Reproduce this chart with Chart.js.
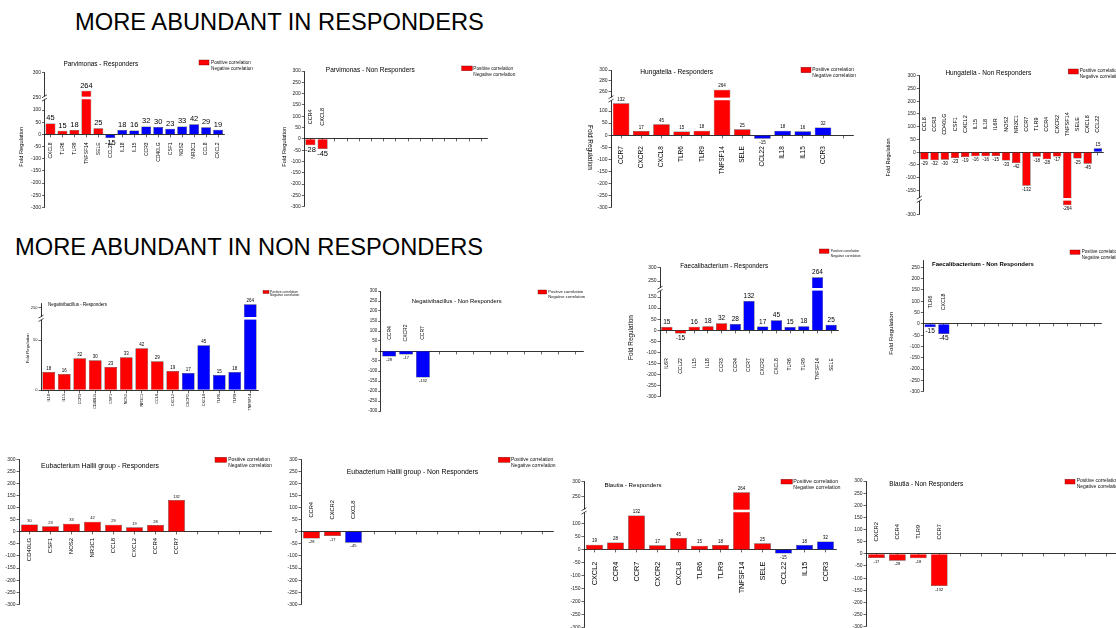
<!DOCTYPE html>
<html>
<head>
<meta charset="utf-8">
<script src="https://cdn.jsdelivr.net/npm/chart.js@4.4.1/dist/chart.umd.min.js"></script>
<style>
  html, body { margin: 0; padding: 0; background: #fff; }
  body { width: 1116px; height: 628px; position: relative; overflow: hidden;
         font-family: "Liberation Sans", Arial, sans-serif; }
  canvas { position: absolute; }
  .head { position: absolute; font-size: 23.7px; line-height: 24px; white-space: nowrap; color: #000; }
</style>
</head>
<body>
<div class="head" style="left:75px;top:10px">MORE ABUNDANT IN RESPONDERS</div>
<div class="head" style="left:15px;top:235px">MORE ABUNDANT IN NON RESPONDERS</div>
<canvas id="overlay" width="1116" height="628" style="left:0;top:0;z-index:2"></canvas>
<script>
// ---- fold regulation per gene; '+' = positive correlation, '-' = negative correlation ----
const parvimonasRGenes = ['CXCL8','TLR6','TLR9','TNFSF14','SELE','CCL22','IL18','IL15','CCR3','CD40LG','CSF1','NOS2','NR3C1','CCL8','CXCL2'];
const parvimonasRFold  = [45, 15, 18, 264, 25, -15, 18, 16, 32, 30, 23, 33, 42, 29, 19];
const parvimonasRCorr  = ['+','+','+','+','+','-','-','-','-','-','-','-','-','-','-'];

const parvimonasNRGenes = ['CCR4','CXCL8'];
const parvimonasNRFold  = [-28, -45];
const parvimonasNRCorr  = ['+','+'];

const hungatellaRGenes = ['CCR7','CXCR2','CXCL8','TLR6','TLR9','TNFSF14','SELE','CCL22','IL18','IL15','CCR3'];
const hungatellaRFold  = [132, 17, 45, 15, 18, 264, 25, -15, 18, 16, 32];
const hungatellaRCorr  = ['+','+','+','+','+','+','+','-','-','-','-'];

const hungatellaNRGenes = ['CCL8','CCR3','CD40LG','CSF1','CXCL2','IL15','IL18','IL6R','NOS2','NR3C1','CCR7','TLR9','CCR4','CXCR2','TNFSF14','SELE','CXCL8','CCL22'];
const hungatellaNRFold  = [-29, -32, -30, -23, -19, -16, -16, -15, -33, -42, -132, -18, -28, -17, -264, -25, -45, 15];
const hungatellaNRCorr  = ['+','+','+','+','+','+','+','+','+','+','+','+','+','+','+','+','+','-'];

const negativibacillusRGenes = ['IL18','IL15','CCR3','CD40LG','CSF1','NOS2','NR3C1','CCL8','CXCL2','CXCR2','CXCL8','TLR6','TLR9','TNFSF14'];
const negativibacillusRFold  = [18, 16, 32, 30, 23, 33, 42, 29, 19, 17, 45, 15, 18, 264];
const negativibacillusRCorr  = ['+','+','+','+','+','+','+','+','+','-','-','-','-','-'];

const negativibacillusNRGenes = ['CCR4','CXCR2','CCR7'];
const negativibacillusNRFold  = [-28, -17, -132];
const negativibacillusNRCorr  = ['-','-','-'];

const faecalibacteriumRGenes = ['IL6R','CCL22','IL15','IL18','CCR3','CCR4','CCR7','CXCR2','CXCL8','TLR6','TLR9','TNFSF14','SELE'];
const faecalibacteriumRFold  = [15, -15, 16, 18, 32, 28, 132, 17, 45, 15, 18, 264, 25];
const faecalibacteriumRCorr  = ['+','+','+','+','+','-','-','-','-','-','-','-','-'];

const faecalibacteriumNRGenes = ['TLR6','CXCL8'];
const faecalibacteriumNRFold  = [-15, -45];
const faecalibacteriumNRCorr  = ['-','-'];

const eubacteriumRGenes = ['CD40LG','CSF1','NOS2','NR3C1','CCL8','CXCL2','CCR4','CCR7'];
const eubacteriumRFold  = [30, 23, 33, 42, 29, 19, 28, 132];
const eubacteriumRCorr  = ['+','+','+','+','+','+','+','+'];

const eubacteriumNRGenes = ['CCR4','CXCR2','CXCL8'];
const eubacteriumNRFold  = [-28, -17, -45];
const eubacteriumNRCorr  = ['+','+','-'];

const blautiaRGenes = ['CXCL2','CCR4','CCR7','CXCR2','CXCL8','TLR6','TLR9','TNFSF14','SELE','CCL22','IL15','CCR3'];
const blautiaRFold  = [19, 28, 132, 17, 45, 15, 18, 264, 25, -15, 18, 32];
const blautiaRCorr  = ['+','+','+','+','+','+','+','+','+','-','-','-'];

const blautiaNRGenes = ['CXCR2','CCR4','TLR9','CCR7'];
const blautiaNRFold  = [-17, -28, -18, -132];
const blautiaNRCorr  = ['+','+','+','+'];

// ---- y-axis tick values ----
const ticksFull        = [300, 250, 200, 150, 100, 50, 0, -50, -100, -150, -200, -250, -300];
const ticksBrokenUpper = [300, 250, 100, 50, 0, -50, -100, -150, -200, -250, -300];
const ticksHungatellaR = [300, 280, 260, 100, 50, 0, -50, -100, -150, -200, -250, -300];
const ticksHungatellaNR = [300, 250, 200, 150, 100, 50, 0, -50, -100, -150, -300];
const ticksNegativibacillusR = [250, 50, 0];
const ticksFaecalibacteriumR = [300, 250, 150, 100, 50, 0, -50, -100, -150, -200, -250, -300];
const ticksFaecalibacteriumNR = [250, 200, 150, 100, 50, 0, -50, -100, -150, -200, -250, -300];

const FONT = '"Liberation Sans", Arial, sans-serif';
const RED = '#ff0000';
const BLUE = '#0000ff';

// Linear scale with one removed value range (lo..hi); the part above hi gets `frac` of the height.
const LinearScale = Chart.LinearScale || Chart.registry.getScale('linear');
class BrokenLinearScale extends LinearScale {
  _dec(v) {
    const b = this.options.brk;
    const min = this.min, max = this.max;
    if (!b) return (v - min) / (max - min);
    if (v <= b.lo) return (v - min) / (b.lo - min) * (1 - b.frac);
    if (v >= b.hi) return (1 - b.frac) + (v - b.hi) / (max - b.hi) * b.frac;
    return 1 - b.frac;
  }
  getPixelForValue(v) { return this.getPixelForDecimal(this._dec(v)); }
  getValueForPixel(p) {
    const d = this.getDecimalForPixel(p);
    const b = this.options.brk;
    const min = this.min, max = this.max;
    if (!b) return min + d * (max - min);
    if (d <= 1 - b.frac) return min + d / (1 - b.frac) * (b.lo - min);
    return b.hi + (d - (1 - b.frac)) / b.frac * (max - b.hi);
  }
}
BrokenLinearScale.id = 'brokenLinear';
BrokenLinearScale.defaults = {};
Chart.register(BrokenLinearScale);

// value labels, gene labels and the axis-break marks
const barText = {
  id: 'barText',
  afterDatasetsDraw(chart, args, o) {
    const ctx = chart.ctx, xs = chart.scales.x, ys = chart.scales.y, ca = chart.chartArea;
    const data = chart.data.datasets[0].data;
    const meta = chart.getDatasetMeta(0);
    const y0 = ys.getPixelForValue(0);
    ctx.save();
    const b = ys.options.brk;
    if (b) {
      const P = ys.getPixelForDecimal(1 - b.frac);
      ctx.fillStyle = '#fff';
      ctx.fillRect(ca.left + 0.8, P - 1.3, ca.right - ca.left, 2.6);
      const ax = ca.left;
      ctx.fillRect(ax - 3, P - 1.6, 6, 3.2);
      ctx.strokeStyle = '#000';
      ctx.lineWidth = 0.7;
      ctx.beginPath();
      ctx.moveTo(ax - 2.5, P - 0.2); ctx.lineTo(ax + 2.5, P - 3.2);
      ctx.moveTo(ax - 2.5, P + 3.2); ctx.lineTo(ax + 2.5, P + 0.2);
      ctx.stroke();
    }
    ctx.fillStyle = '#000';
    ctx.textAlign = 'center';
    ctx.font = o.valFont + 'px ' + FONT;
    meta.data.forEach((bar, i) => {
      const v = data[i];
      if (v === null || v === undefined) return;
      if (v >= 0) { ctx.textBaseline = 'bottom'; ctx.fillText(String(v), bar.x, bar.y - o.valGap); }
      else { ctx.textBaseline = 'top'; ctx.fillText(String(v), bar.x, bar.y + o.valGap); }
    });
    ctx.font = o.catFont + 'px ' + FONT;
    chart.data.labels.forEach((lab, i) => {
      if (!lab) return;
      const x = xs.getPixelForValue(i);
      ctx.save();
      ctx.translate(x, o.catPos === 'above' ? y0 - o.catOff : y0 + o.catOff);
      ctx.rotate(-Math.PI / 2);
      ctx.textBaseline = 'middle';
      ctx.textAlign = o.catPos === 'above' ? 'center' : 'right';
      ctx.fillText(lab, 0, 0);
      ctx.restore();
    });
    ctx.restore();
  }
};

const panels = [
  { genes: parvimonasRGenes, fold: parvimonasRFold, corr: parvimonasRCorr, nCat: 15,
    x0: 44.5, x1: 224, yTop: 72.3, yBot: 207.3, min: -300, max: 300,
    brk: { lo: 150, hi: 250, frac: 0.19 }, ticks: ticksBrokenUpper,
    tickFont: 5, catFont: 5, catPos: 'below', catOff: 8, valFont: 7.5, valGap: 1.5 },
  { genes: parvimonasNRGenes, fold: parvimonasNRFold, corr: parvimonasNRCorr, nCat: 15,
    x0: 304.3, x1: 487.3, yTop: 71, yBot: 206.7, min: -300, max: 300, ticks: ticksFull,
    tickFont: 5, catFont: 5.5, catPos: 'above', catOff: 22, valFont: 7.5, valGap: 1 },
  { genes: hungatellaRGenes, fold: hungatellaRFold, corr: hungatellaRCorr, nCat: 12,
    x0: 611, x1: 853.3, yTop: 70, yBot: 207.7, min: -300, max: 300,
    brk: { lo: 150, hi: 247, frac: 0.21 }, ticks: ticksHungatellaR,
    tickFont: 5, catFont: 6.5, catPos: 'below', catOff: 11, valFont: 4.5, valGap: 1.5 },
  { genes: hungatellaNRGenes, fold: hungatellaNRFold, corr: hungatellaNRCorr, nCat: 18,
    x0: 919.3, x1: 1103, yTop: 75.7, yBot: 214.3, min: -300, max: 300,
    brk: { lo: -240, hi: -185, frac: 0.892 }, ticks: ticksHungatellaNR,
    tickFont: 5, catFont: 5.5, catPos: 'above', catOff: 28, valFont: 4.5, valGap: 1.5 },
  { genes: negativibacillusRGenes, fold: negativibacillusRFold, corr: negativibacillusRCorr, nCat: 14,
    x0: 41, x1: 258, yTop: 303, yBot: 390, min: 0, max: 270,
    brk: { lo: 72, hi: 203, frac: 0.176 }, ticks: ticksNegativibacillusR,
    tickFont: 4, catFont: 3.8, catPos: 'below', catOff: 4, valFont: 4.5, valGap: 1.5, padB: 26 },
  { genes: negativibacillusNRGenes, fold: negativibacillusNRFold, corr: negativibacillusNRCorr, nCat: 12,
    x0: 380.7, x1: 583.5, yTop: 291, yBot: 411, min: -300, max: 300, ticks: ticksFull,
    tickFont: 4.5, catFont: 5, catPos: 'above', catOff: 18, valFont: 4, valGap: 1.5 },
  { genes: faecalibacteriumRGenes, fold: faecalibacteriumRFold, corr: faecalibacteriumRCorr, nCat: 13,
    x0: 660, x1: 838, yTop: 267.7, yBot: 396.7, min: -300, max: 300,
    brk: { lo: 185, hi: 219, frac: 0.1674 }, ticks: ticksFaecalibacteriumR,
    tickFont: 5, catFont: 5, catPos: 'below', catOff: 28, valFont: 6.5, valGap: 1.5 },
  { genes: faecalibacteriumNRGenes, fold: faecalibacteriumNRFold, corr: faecalibacteriumNRCorr, nCat: 13,
    x0: 923.3, x1: 1101.4, yTop: 260.6, yBot: 391.7, min: -300, max: 280, ticks: ticksFaecalibacteriumNR,
    tickFont: 5, catFont: 5.2, catPos: 'above', catOff: 22, valFont: 6.5, valGap: 1 },
  { genes: eubacteriumRGenes, fold: eubacteriumRFold, corr: eubacteriumRCorr, nCat: 12, bar: 0.8,
    x0: 19, x1: 271, yTop: 459.3, yBot: 604.3, min: -300, max: 300, ticks: ticksFull,
    tickFont: 5, catFont: 6, catPos: 'below', catOff: 6, valFont: 4, valGap: 1.5 },
  { genes: eubacteriumNRGenes, fold: eubacteriumNRFold, corr: eubacteriumNRCorr, nCat: 12, bar: 0.8,
    x0: 301, x1: 553, yTop: 459.3, yBot: 604.3, min: -300, max: 300, ticks: ticksFull,
    tickFont: 5, catFont: 5.7, catPos: 'above', catOff: 22, valFont: 4, valGap: 1.5 },
  { genes: blautiaRGenes, fold: blautiaRFold, corr: blautiaRCorr, nCat: 12, bar: 0.8,
    x0: 584, x1: 836, yTop: 481.7, yBot: 627.3, min: -300, max: 300,
    brk: { lo: 150, hi: 200, frac: 0.201 }, ticks: ticksBrokenUpper,
    tickFont: 5, catFont: 7.3, catPos: 'below', catOff: 12, valFont: 4.5, valGap: 1.5 },
  { genes: blautiaNRGenes, fold: blautiaNRFold, corr: blautiaNRCorr, nCat: 12, bar: 0.8,
    x0: 866, x1: 1117, yTop: 481, yBot: 626.7, min: -300, max: 300, ticks: ticksFull,
    tickFont: 5, catFont: 5.7, catPos: 'above', catOff: 22, valFont: 4, valGap: 1.5 }
];

function makePanel(p) {
  const W = 24;
  const padB = p.padB || 10;
  const cLeft = Math.floor(p.x0 - W - 2);
  const cTop = Math.floor(p.yTop - 10);
  const cW = Math.ceil(p.x1 + 8 - cLeft);
  const cH = Math.ceil(p.yBot + padB - cTop);
  const cv = document.createElement('canvas');
  cv.width = cW; cv.height = cH;
  cv.style.left = cLeft + 'px';
  cv.style.top = cTop + 'px';
  document.body.insertBefore(cv, document.getElementById('overlay'));

  const labels = [], values = [], colors = [];
  for (let i = 0; i < p.nCat; i++) {
    labels.push(p.genes[i] || '');
    values.push(i < p.fold.length ? p.fold[i] : null);
    colors.push(p.corr[i] === '-' ? BLUE : RED);
  }
  const tickVals = p.ticks;
  new Chart(cv, {
    type: 'bar',
    data: {
      labels,
      datasets: [{
        data: values, backgroundColor: colors, borderColor: '#222', borderWidth: 0.5,
        barPercentage: p.bar || 0.82, categoryPercentage: 1
      }]
    },
    options: {
      responsive: false, animation: false, events: [],
      layout: { padding: {
        left: p.x0 - cLeft - W, top: p.yTop - cTop,
        right: cW - (p.x1 - cLeft), bottom: cH - (p.yBot - cTop) } },
      plugins: {
        legend: { display: false }, tooltip: { enabled: false }, title: { display: false },
        barText: { valFont: p.valFont, valGap: p.valGap, catFont: p.catFont, catPos: p.catPos, catOff: p.catOff }
      },
      scales: {
        x: {
          type: 'category', position: { y: 0 }, offset: true,
          grid: { display: true, offset: false, drawOnChartArea: false, drawTicks: true,
                  tickLength: 2.5, color: '#000', lineWidth: 0.6 },
          border: { display: true, color: '#000', width: 0.8 },
          ticks: { display: false }
        },
        y: {
          type: 'brokenLinear', min: p.min, max: p.max, bounds: 'data', brk: p.brk || null,
          afterBuildTicks: s => { s.ticks = tickVals.map(v => ({ value: v })); },
          afterFit: s => { s.width = W; },
          grid: { drawOnChartArea: false, drawTicks: true, tickLength: 2.5, color: '#000', lineWidth: 0.6 },
          border: { display: true, color: '#000', width: 0.8 },
          ticks: { font: { size: p.tickFont, family: FONT }, color: '#222', padding: 1,
                   autoSkip: false, callback: v => String(v) }
        }
      }
    },
    plugins: [barText]
  });
}
panels.forEach(makePanel);

// ---- titles, legends and axis titles ----
const ov = document.getElementById('overlay').getContext('2d');
function fitSize(str, width, bold) {
  ov.font = (bold ? 'bold ' : '') + '10px ' + FONT;
  return 10 * width / ov.measureText(str).width;
}
function text(str, x, y, o) {
  const s = o.size || fitSize(str, o.width, o.bold);
  ov.save();
  ov.translate(x, y);
  if (o.rot) ov.rotate(o.rot);
  ov.font = (o.bold ? 'bold ' : '') + s + 'px ' + FONT;
  ov.textAlign = o.align || 'center';
  ov.textBaseline = 'middle';
  ov.fillStyle = o.color || '#000';
  ov.fillText(str, 0, 0);
  ov.restore();
}
function legend(bx, by, bw, bh, tx, y1, y2, width) {
  ov.fillStyle = RED;
  ov.fillRect(bx, by, bw, bh);
  ov.strokeStyle = '#600';
  ov.lineWidth = 0.4;
  ov.strokeRect(bx, by, bw, bh);
  const s = fitSize('Positive correlation', width);
  text('Positive correlation', tx, y1, { size: s, align: 'left', color: '#111' });
  text('Negative correlation', tx, y2, { size: s, align: 'left', color: '#111' });
}
const UP = -Math.PI / 2;

text('Parvimonas - Responders', 100.8, 64.3, { width: 75 });
text('Parvimonas - Non Responders', 370.3, 70.7, { width: 89 });
text('Hungatella - Responders', 676.7, 72.3, { width: 73 });
text('Hungatella - Non Responders', 988.3, 73.3, { width: 86 });
text('Negativibacillus - Responders', 77.5, 305, { width: 59 });
text('Negativibacillus - Non Responders', 456.7, 301, { width: 90 });
text('Faecalibacterium - Responders', 724.2, 266.7, { width: 88 });
text('Faecalibacterium - Non Responders', 983, 264, { width: 102, bold: true });
text('Eubacterium Hallii group - Responders', 100, 465.7, { width: 118 });
text('Eubacterium Hallii group - Non Responders', 412.5, 471.7, { width: 131.7 });
text('Blautia - Responders', 633, 485, { width: 57.4 });
text('Blautia - Non Responders', 926.3, 484, { width: 74 });

legend(199, 60, 10, 5, 211, 62.5, 69, 40);
legend(461.7, 66, 10.6, 4.7, 473.3, 68.3, 74.3, 40);
legend(801, 67.3, 10, 5.4, 812.3, 69.7, 75.7, 41.7);
legend(1068.3, 69, 10, 5, 1079.7, 71, 76.7, 40);
legend(263, 290.5, 6, 3, 270, 292, 295.5, 28);
legend(538, 290, 8.7, 4, 548.3, 291.7, 297.3, 35);
legend(819.3, 249, 9.7, 4.3, 830.7, 250.7, 256, 28.7);
legend(1070, 250, 10, 4.3, 1081.7, 251.7, 257.3, 38);
legend(215, 457.3, 11.7, 5, 228.3, 460, 465.7, 41.7);
legend(498.3, 457.3, 11.7, 5, 511, 459.7, 465.3, 42.3);
legend(781, 479.3, 11.3, 4.7, 793.3, 481.7, 487.7, 45);
legend(1065, 479.3, 10, 4.7, 1076.7, 481, 486.7, 42);

text('Fold Regulation', 21, 146.7, { width: 40, rot: UP });
text('Fold Regulation', 284, 146.7, { width: 40, rot: UP });
text('Fold Regulation', 590, 147.5, { width: 45, rot: Math.PI / 2 });
text('Fold Regulation', 889, 157.5, { width: 38, rot: UP });
text('Fold Regulation', 28.3, 348.3, { width: 30, rot: UP });
text('Fold Regulation', 631.7, 337.5, { width: 45, rot: UP });
text('Fold Regulation', 891.7, 333.3, { width: 43, rot: UP });
</script>
</body>
</html>
